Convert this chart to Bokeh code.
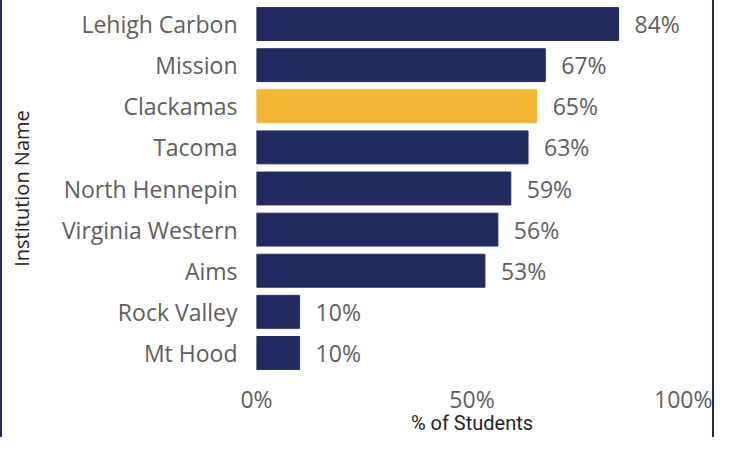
from bokeh.plotting import figure
from bokeh.models import ColumnDataSource, FactorRange, FixedTicker
from bokeh.core.properties import value
from bokeh.embed import file_html
from bokeh.resources import INLINE

institutions = ["Lehigh Carbon", "Mission", "Clackamas", "Tacoma", "North Hennepin",
                "Virginia Western", "Aims", "Rock Valley", "Mt Hood"]
pct_students = [84, 67, 65, 63, 59, 56, 53, 10, 10]
highlight = "Clackamas"
x_ticks = [0, 50, 100]

NAVY = "#212B5F"
GOLD = "#F2B534"
GRAY = "#605E5C"
DARK = "#252423"

colors = [GOLD if n == highlight else NAVY for n in institutions]
labels = [f"{v}%" for v in pct_students]
src = ColumnDataSource(dict(name=institutions, pct=pct_students, color=colors, label=labels))

p = figure(width=714, height=437, output_backend="svg", toolbar_location=None,
           y_range=FactorRange(factors=list(reversed(institutions))),
           x_range=(0, 100),
           min_border_left=254, min_border_right=29, min_border_top=3, min_border_bottom=64)
p.styles = {"border-left": "2px solid #212B5F", "border-right": "2px solid #212B5F"}

p.hbar(y="name", right="pct", left=0, height=0.8, color="color", source=src)
p.text(x="pct", y="name", text="label", source=src, x_offset=16,
       text_baseline="middle", text_align="left", text_color=GRAY,
       text_font=value("Open Sans"), text_font_size="23px")

p.outline_line_color = None
p.xgrid.grid_line_color = None
p.ygrid.grid_line_color = None

for ax in (p.xaxis[0], p.yaxis[0]):
    ax.axis_line_color = None
    ax.major_tick_line_color = None
    ax.minor_tick_line_color = None
    ax.major_tick_out = 0
    ax.major_tick_in = 0
    ax.major_label_text_font = "Open Sans"
    ax.major_label_text_font_size = "23px"
    ax.major_label_text_color = GRAY

p.xaxis.ticker = FixedTicker(ticks=x_ticks)
p.xaxis.major_label_overrides = {t: f"{t}%" for t in x_ticks}
p.xaxis.major_label_standoff = 9
p.xaxis.axis_label = "% of Students"
p.xaxis.axis_label_text_font = "Roboto"
p.xaxis.axis_label_text_font_style = "normal"
p.xaxis.axis_label_text_font_size = "20px"
p.xaxis.axis_label_text_color = DARK
p.xaxis.axis_label_standoff = -7

p.yaxis.major_label_standoff = 19
p.yaxis.axis_label = "Institution Name"
p.yaxis.axis_label_text_font = "Open Sans"
p.yaxis.axis_label_text_font_style = "normal"
p.yaxis.axis_label_text_font_size = "20px"
p.yaxis.axis_label_text_color = DARK
p.yaxis.axis_label_standoff = 24

p.background_fill_color = "white"
p.border_fill_color = "white"

open("out.html", "w").write(file_html(p, INLINE))
